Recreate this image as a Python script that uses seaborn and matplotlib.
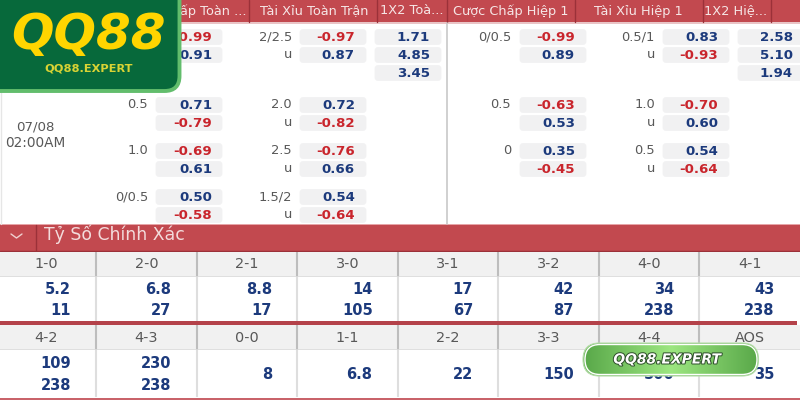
import numpy as np
import pandas as pd
import seaborn as sns
import matplotlib
matplotlib.use("Agg")
import matplotlib.pyplot as plt
from matplotlib.patches import FancyBboxPatch, Rectangle
import matplotlib.patheffects as pe
from matplotlib.colors import LinearSegmentedColormap, ListedColormap

# ---------- data ----------
market_titles = ["ấp Toàn ...", "Tài Xỉu Toàn Trận", "1X2 Toà...",
                 "Cược Chấp Hiệp 1", "Tài Xỉu Hiệp 1", "1X2 Hiệ..."]

ft_hdp_labels = ["", "", "0.5", "", "1.0", "", "0/0.5", ""]
ft_hdp_values = ["-0.99", "0.91", "0.71", "-0.79", "-0.69", "0.61", "0.50", "-0.58"]
ft_ou_labels = ["2/2.5", "u", "2.0", "u", "2.5", "u", "1.5/2", "u"]
ft_ou_values = ["-0.97", "0.87", "0.72", "-0.82", "-0.76", "0.66", "0.54", "-0.64"]
ft_1x2_values = ["1.71", "4.85", "3.45"]
h1_hdp_labels = ["0/0.5", "", "0.5", "", "0", ""]
h1_hdp_values = ["-0.99", "0.89", "-0.63", "0.53", "0.35", "-0.45"]
h1_ou_labels = ["0.5/1", "u", "1.0", "u", "0.5", "u"]
h1_ou_values = ["0.83", "-0.93", "-0.70", "0.60", "0.54", "-0.64"]
h1_1x2_values = ["2.58", "5.10", "1.94"]

match_date = "07/08"
match_time = "02:00AM"
section_title = "Tỷ Số Chính Xác"

scores_top = ["1-0", "2-0", "2-1", "3-0", "3-1", "3-2", "4-0", "4-1"]
odds_top_a = ["5.2", "6.8", "8.8", "14", "17", "42", "34", "43"]
odds_top_b = ["11", "27", "17", "105", "67", "87", "238", "238"]
scores_bottom = ["4-2", "4-3", "0-0", "1-1", "2-2", "3-3", "4-4", "AOS"]
odds_bottom_a = ["109", "230", "", "", "", "", "", ""]
odds_bottom_b = ["238", "238", "", "", "", "", "", ""]
odds_bottom_single = ["", "", "8", "6.8", "22", "150", "500", "35"]

brand = "QQ88"
brand_site = "QQ88.EXPERT"

# ---------- style ----------
RED = "#c2494f"
DARK_RED = "#9b3139"
NAVY = "#1c3a7c"
NEG = "#c9252c"
GREY_TXT = "#585858"
CHIP = "#f1f1f2"
HEAD = "#f1f1f1"

sns.set_theme(style="white")
plt.rcParams["font.family"] = ["DejaVu Sans"]

fig = plt.figure(figsize=(8, 4), dpi=100, facecolor="white")


def px_axes(x0, y0, x1, y1, z):
    a = fig.add_axes([x0 / 800, 1 - y1 / 400, (x1 - x0) / 800, (y1 - y0) / 400], zorder=z)
    return a


bg = px_axes(0, 0, 800, 400, 0)
bg.set_xlim(0, 800)
bg.set_ylim(400, 0)
bg.axis("off")

# top header band
bg.add_patch(Rectangle((0, 0), 800, 22, color=RED, lw=0))
bg.add_patch(Rectangle((0, 22), 800, 1.5, color="#e9c4c6", lw=0))
for sx in [249, 377, 447, 574.5, 702.5, 771]:
    bg.plot([sx, sx], [0, 22], color=DARK_RED, lw=1)
title_spec = [(246, "right"), (314, "center"), (412, "center"),
              (511, "center"), (638, "center"), (736, "center")]
for t, (tx, ha) in zip(market_titles, title_spec):
    bg.text(tx, 11, t, ha=ha, va="center", color="#f6e6e6", fontsize=9.3)

# body dividers
bg.plot([447, 447], [23, 224], color="#c8c8c8", lw=1.2)
bg.plot([0.5, 0.5], [92, 224], color="#e6e6e6", lw=1)
bg.add_patch(Rectangle((0, 224), 800, 1.5, color="#e6a5a8", lw=0))

# date / time
bg.text(35, 127, match_date, ha="center", va="center", color=GREY_TXT, fontsize=9.6)
bg.text(35, 143, match_time, ha="center", va="center", color=GREY_TXT, fontsize=9.8)

# odds chips
row_y = [37, 55, 105, 123, 151, 169, 197, 215]
row_y_1x2 = [37, 55, 73]


def chip(x0, yc, val, right):
    bg.add_patch(FancyBboxPatch((x0 + 2, yc - 6.5), 64, 13,
                                boxstyle="round,pad=0,rounding_size=2", lw=2,
                                ec=CHIP, fc=CHIP))
    col = NEG if val.startswith("-") else NAVY
    bg.text(right, yc + 0.3, val, ha="right", va="center", color=col,
            fontsize=9.6, fontweight="bold")


def column(labels, values, ys, x0, right, lab_right):
    for lab, val, yc in zip(labels, values, ys):
        chip(x0, yc, val, right)
        if lab:
            bg.text(lab_right, yc, lab, ha="right", va="center", color=GREY_TXT, fontsize=9.4)


column(ft_hdp_labels, ft_hdp_values, row_y, 155, 212, 148)
column(ft_ou_labels, ft_ou_values, row_y, 299, 355, 292)
column([""] * 3, ft_1x2_values, row_y_1x2, 374, 430, 0)
column(h1_hdp_labels, h1_hdp_values, row_y[:6], 519, 575, 511)
column(h1_ou_labels, h1_ou_values, row_y[:6], 662, 718, 655)
column([""] * 3, h1_1x2_values, row_y_1x2, 737, 793, 0)

# section bar
bg.add_patch(Rectangle((0, 225), 800, 26, color=RED, lw=0))
bg.plot([0, 800], [251, 251], color=DARK_RED, lw=1)
bg.plot([36, 36], [225, 251], color=DARK_RED, lw=1)
bg.plot([11, 16.5, 22], [234, 238, 234], color="#f0d0d0", lw=1)
bg.text(44, 234, section_title, ha="left", va="center", color="#f3dcdc", fontsize=12.4)

# red separators between tables
bg.add_patch(Rectangle((0, 321), 797, 4, color="#b4424a", lw=0))
bg.add_patch(Rectangle((0, 397.5), 800, 2.5, color="#c9636a", lw=0))


# ---------- score tables, drawn as seaborn heatmaps ----------
def score_table(scores, a, b, single, y0, y1, y2):
    head = px_axes(-4.5, y0, 800, y1, 1)
    hd = pd.DataFrame([np.zeros(len(scores))], columns=scores)
    sns.heatmap(hd, ax=head, cmap=ListedColormap([HEAD]), cbar=False,
                annot=np.array([scores]), fmt="",
                annot_kws={"color": GREY_TXT, "fontsize": 10.4},
                xticklabels=False, yticklabels=False)
    head.vlines(range(1, len(scores)), 0, 1, color="#bdbdbd", lw=1.5)
    head.hlines(0.98, 0, len(scores), color="#dcdcdc", lw=1.2)
    body = px_axes(-4.5, y1, 800, y2, 1)
    bd = pd.DataFrame([np.zeros(len(scores))], columns=scores)
    sns.heatmap(bd, ax=body, cmap=ListedColormap(["white"]), cbar=False,
                xticklabels=False, yticklabels=False)
    body.vlines(range(1, len(scores)), 0, 1, color="#dedede", lw=1.5)
    kw = dict(ha="right", va="center", color=NAVY, fontsize=10.5, fontweight="bold")
    for i, (va_, vb_, vs_) in enumerate(zip(a, b, single)):
        rx = i + 0.75
        if va_:
            body.text(rx, 0.29, va_, **kw)
        if vb_:
            body.text(rx, 0.76, vb_, **kw)
        if vs_:
            body.text(rx, 0.52, vs_, **kw)


score_table(scores_top, odds_top_a, odds_top_b, [""] * 8, 252, 277, 321)
score_table(scores_bottom, odds_bottom_a, odds_bottom_b, odds_bottom_single, 325, 350, 397)

# ---------- overlays ----------
ov = px_axes(0, 0, 800, 400, 5)
ov.set_xlim(0, 800)
ov.set_ylim(400, 0)
ov.axis("off")
ov.patch.set_alpha(0)

# logo card
ov.add_patch(FancyBboxPatch((-30, -30), 209.5, 121,
                            boxstyle="round,pad=0,rounding_size=15",
                            fc="#07693b", ec="#62bd6c", lw=2.8))
ov.text(88.5, 35.5, brand, ha="center", va="center", color="#ffd500", fontsize=36,
        fontweight="bold", fontstyle="italic")
ov.text(88.5, 68.5, brand_site, ha="center", va="center", color="#d9d334", fontsize=8.2,
        fontweight="bold")

# badge
grad = np.abs(np.linspace(-1, 1, 256)).reshape(1, -1)
cmap = LinearSegmentedColormap.from_list("badge", ["#9ce680", "#5aa94a"])
pill = FancyBboxPatch((585, 344.5), 172, 30, boxstyle="round,pad=0,rounding_size=15",
                      fc="none", ec="white", lw=1.0, zorder=4)
outer = FancyBboxPatch((583, 343), 175.5, 33, boxstyle="round,pad=0,rounding_size=16.5",
                       fc="#6cb95c", ec="#b6dca9", lw=0.8, zorder=2)
ov.add_patch(outer)
im = ov.imshow(grad, extent=(585, 757, 374.5, 344.5), cmap=cmap, aspect="auto", zorder=3)
ov.add_patch(pill)
im.set_clip_path(pill)
ov.set_xlim(0, 800)
ov.set_ylim(400, 0)
ov.text(667, 359.5, brand_site, ha="center", va="center", color="white", fontsize=10,
        fontweight="bold", fontstyle="italic", zorder=5,
        path_effects=[pe.withStroke(linewidth=1.4, foreground="#2d4d2a")])

fig.savefig("out.png", dpi=100)
